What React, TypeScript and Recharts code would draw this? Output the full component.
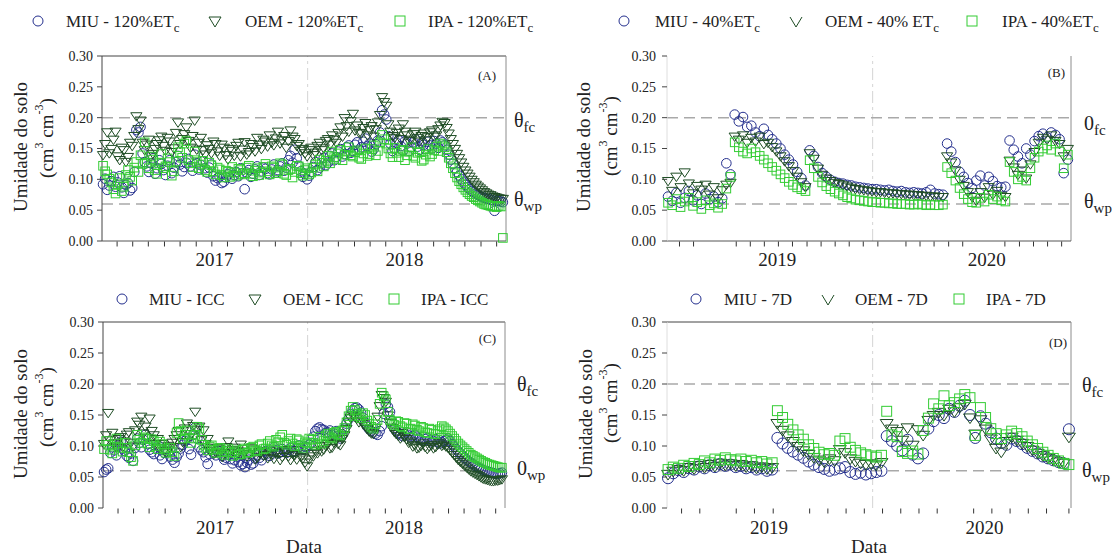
import React from 'react';
import { ScatterChart, Scatter, XAxis, YAxis, ReferenceLine } from 'recharts';

const SERIF = "'Liberation Serif', 'Times New Roman', serif";
const INK = '#222';
const MIU_COLOR = '#25308e';
const OEM_COLOR = '#1f4d25';
const IPA_COLOR = '#33cc33';

const X_MAX = 776;
const SEASON_BREAK = 395;
const FIELD_CAPACITY = 0.2;
const WILTING_POINT = 0.06;
const Y_TICKS = [0, 0.05, 0.1, 0.15, 0.2, 0.25, 0.3];

// Days since start of the 2016-2018 season (readings every 4 days)
const days2017 = [
  2, 6, 10, 14, 18, 22, 26, 30, 34, 38, 42, 46, 50, 54, 58, 62, 66, 70, 74, 78,
  82, 86, 90, 94, 98, 102, 106, 110, 114, 118, 122, 126, 130, 134, 138, 142, 146, 150, 154, 158,
  162, 166, 170, 174, 178, 182, 186, 190, 194, 198, 202, 206, 210, 214, 218, 222, 226, 230, 234, 238,
  242, 246, 250, 254, 258, 262, 266, 270, 274, 278, 282, 286, 290, 294, 298, 302, 306, 310, 314, 318,
  322, 326, 330, 334, 338, 342, 346, 350, 354, 358, 362, 366, 370, 374, 378, 382, 386, 390, 394, 398,
  402, 406, 410, 414, 418, 422, 426, 430, 434, 438, 442, 446, 450, 454, 458, 462, 466, 470, 474, 478,
  482, 486, 490, 494, 498, 502, 506, 510, 514, 518, 522, 526, 530, 534, 538, 542, 546, 550, 554, 558,
  562, 566, 570, 574, 578, 582, 586, 590, 594, 598, 602, 606, 610, 614, 618, 622, 626, 630, 634, 638,
  642, 646, 650, 654, 658, 662, 666, 670, 674, 678, 682, 686, 690, 694, 698, 702, 706, 710, 714, 718,
  722, 726, 730, 734, 738, 742, 746, 750, 754, 758, 762, 766, 770,
];
// Days since start of the 2018-2020 season
const days2019 = [
  2, 10, 18, 26, 34, 42, 50, 58, 66, 74, 82, 90, 98, 106, 114, 122, 130, 138, 146, 154,
  162, 170, 178, 186, 194, 202, 210, 218, 226, 234, 242, 250, 258, 266, 274, 282, 290, 298, 306, 314,
  322, 330, 338, 346, 354, 362, 370, 378, 386, 394, 402, 410, 418, 426, 434, 442, 450, 458, 466, 474,
  482, 490, 498, 506, 514, 522, 530, 538, 546, 554, 562, 570, 578, 586, 594, 602, 610, 618, 626, 634,
  642, 650, 658, 666, 674, 682, 690, 698, 706, 714, 722, 730, 738, 746, 754, 762, 770,
];
const days7D = [
  2, 12, 22, 32, 42, 52, 62, 72, 82, 92, 102, 112, 122, 132, 142, 152, 162, 172, 182, 192,
  202, 212, 222, 232, 242, 252, 262, 272, 282, 292, 302, 312, 322, 332, 342, 352, 362, 372, 382, 392,
  402, 412, 422, 432, 442, 452, 462, 472, 482, 492, 502, 512, 522, 532, 542, 552, 562, 572, 582, 592,
  602, 612, 622, 632, 642, 652, 662, 672, 682, 692, 702, 712, 722, 732, 742, 752, 762, 772,
];

// (A) 120% ETc
const miu120 = [
  0.092, 0.101, 0.083, 0.090, 0.097, 0.104, 0.088, 0.095, 0.105, 0.087, 0.078, 0.091, 0.094, 0.082, 0.086, 0.112, 0.180, 0.176, 0.185, 0.142,
  0.128, 0.121, 0.112, 0.126, 0.134, 0.109, 0.118, 0.131, 0.125, 0.115, 0.107, 0.122, 0.131, 0.110, 0.119, 0.128, 0.138, 0.124, 0.113, 0.120,
  0.127, 0.133, 0.121, 0.114, 0.140, 0.126, 0.116, 0.123, 0.129, 0.118, 0.111, 0.119, 0.124, 0.105, 0.098, 0.102, 0.104, 0.094, 0.096, 0.103,
  0.108, 0.112, 0.101, 0.107, 0.112, 0.105, 0.118, 0.110, 0.084, 0.111, 0.115, 0.104, 0.109, 0.116, 0.121, 0.107, 0.113, 0.119, 0.117, 0.110,
  0.108, 0.116, 0.124, 0.111, 0.115, 0.121, 0.126, 0.114, 0.119, 0.131, 0.138, 0.127, 0.148, 0.134, 0.122, 0.113, 0.104, 0.109, 0.100, 0.106,
  0.112, 0.120, 0.128, 0.115, 0.119, 0.126, 0.135, 0.123, 0.127, 0.138, 0.142, 0.131, 0.136, 0.145, 0.149, 0.137, 0.141, 0.152, 0.155, 0.143,
  0.146, 0.156, 0.160, 0.148, 0.152, 0.161, 0.166, 0.154, 0.158, 0.145, 0.149, 0.157, 0.163, 0.176, 0.212, 0.205, 0.197, 0.170, 0.158, 0.146,
  0.150, 0.159, 0.163, 0.154, 0.147, 0.162, 0.158, 0.146, 0.152, 0.160, 0.165, 0.153, 0.148, 0.159, 0.156, 0.149, 0.161, 0.155, 0.150, 0.162,
  0.158, 0.151, 0.163, 0.160, 0.155, 0.148, 0.140, 0.132, 0.125, 0.118, 0.112, 0.106, 0.100, 0.095, 0.091, 0.087, 0.084, 0.081, 0.079, 0.077,
  0.075, 0.073, 0.071, 0.070, 0.069, 0.068, 0.067, 0.066, 0.049, 0.065, 0.065, 0.064, 0.063,
];
const oem120 = [
  0.140, 0.158, 0.177, 0.143, 0.150, 0.165, 0.178, 0.138, 0.132, 0.152, 0.148, 0.129, 0.137, 0.160, 0.155, 0.171, 0.203, 0.182, 0.196, 0.160,
  0.148, 0.157, 0.165, 0.138, 0.142, 0.150, 0.158, 0.164, 0.170, 0.155, 0.147, 0.168, 0.162, 0.145, 0.151, 0.176, 0.193, 0.158, 0.166, 0.174,
  0.185, 0.163, 0.152, 0.171, 0.196, 0.149, 0.160, 0.168, 0.148, 0.141, 0.156, 0.150, 0.143, 0.162, 0.158, 0.146, 0.139, 0.157, 0.152, 0.140,
  0.133, 0.150, 0.147, 0.139, 0.155, 0.160, 0.138, 0.149, 0.161, 0.141, 0.145, 0.158, 0.153, 0.146, 0.168, 0.157, 0.150, 0.165, 0.162, 0.154,
  0.172, 0.160, 0.156, 0.167, 0.178, 0.159, 0.164, 0.171, 0.152, 0.163, 0.180, 0.170, 0.166, 0.155, 0.158, 0.147, 0.150, 0.143, 0.138, 0.148,
  0.152, 0.140, 0.144, 0.155, 0.160, 0.148, 0.151, 0.163, 0.166, 0.157, 0.172, 0.165, 0.160, 0.176, 0.185, 0.170, 0.200, 0.187, 0.178, 0.195,
  0.207, 0.180, 0.188, 0.176, 0.175, 0.184, 0.192, 0.172, 0.181, 0.187, 0.170, 0.182, 0.193, 0.205, 0.234, 0.226, 0.220, 0.190, 0.178, 0.171,
  0.168, 0.176, 0.183, 0.166, 0.190, 0.178, 0.172, 0.163, 0.165, 0.174, 0.178, 0.168, 0.162, 0.171, 0.175, 0.164, 0.169, 0.177, 0.180, 0.170,
  0.172, 0.182, 0.188, 0.194, 0.192, 0.184, 0.175, 0.166, 0.158, 0.150, 0.142, 0.135, 0.128, 0.121, 0.115, 0.110, 0.105, 0.100, 0.096, 0.092,
  0.089, 0.086, 0.083, 0.080, 0.078, 0.076, 0.075, 0.073, 0.072, 0.071, 0.070, 0.069, 0.069,
];
const ipa120 = [
  0.122, 0.113, 0.108, 0.101, 0.095, 0.084, 0.077, 0.092, 0.102, 0.081, 0.088, 0.107, 0.115, 0.104, 0.098, 0.119, 0.128, 0.112, 0.139, 0.125,
  0.160, 0.127, 0.118, 0.137, 0.132, 0.115, 0.109, 0.126, 0.141, 0.118, 0.121, 0.134, 0.128, 0.106, 0.113, 0.129, 0.152, 0.144, 0.135, 0.158,
  0.162, 0.131, 0.126, 0.120, 0.145, 0.128, 0.118, 0.124, 0.130, 0.115, 0.112, 0.127, 0.123, 0.113, 0.108, 0.119, 0.116, 0.107, 0.103, 0.114,
  0.112, 0.104, 0.120, 0.111, 0.106, 0.117, 0.115, 0.108, 0.110, 0.119, 0.122, 0.109, 0.105, 0.114, 0.118, 0.107, 0.111, 0.120, 0.125, 0.113,
  0.108, 0.121, 0.119, 0.110, 0.113, 0.126, 0.124, 0.109, 0.107, 0.115, 0.117, 0.103, 0.112, 0.122, 0.121, 0.110, 0.106, 0.115, 0.118, 0.108,
  0.111, 0.119, 0.124, 0.113, 0.132, 0.127, 0.121, 0.130, 0.138, 0.126, 0.145, 0.136, 0.133, 0.142, 0.148, 0.131, 0.140, 0.146, 0.152, 0.139,
  0.137, 0.144, 0.147, 0.135, 0.133, 0.142, 0.150, 0.138, 0.141, 0.149, 0.155, 0.139, 0.146, 0.160, 0.172, 0.165, 0.158, 0.150, 0.142, 0.136,
  0.151, 0.143, 0.136, 0.146, 0.148, 0.131, 0.139, 0.145, 0.152, 0.138, 0.135, 0.143, 0.145, 0.130, 0.132, 0.140, 0.149, 0.137, 0.141, 0.147,
  0.153, 0.146, 0.158, 0.155, 0.152, 0.144, 0.135, 0.126, 0.118, 0.110, 0.103, 0.097, 0.092, 0.087, 0.083, 0.079, 0.076, 0.073, 0.071, 0.068,
  0.066, 0.064, 0.062, 0.060, 0.059, 0.058, 0.057, 0.056, 0.056, 0.055, 0.057, 0.056, 0.005,
];

// (B) 40% ETc
const miu40 = [
  0.072, 0.065, 0.078, 0.062, 0.070, 0.081, 0.066, 0.074, 0.060, 0.077,
  0.068, 0.072, 0.063, 0.069, 0.126, 0.108, 0.205, 0.194, 0.201, 0.185,
  0.187, 0.176, 0.170, 0.182, 0.172, 0.165, 0.158, 0.150, 0.140, 0.132,
  0.124, 0.112, 0.102, 0.090, 0.147, 0.138, 0.120, 0.110, 0.104, 0.099,
  0.096, 0.094, 0.093, 0.091, 0.090, 0.088, 0.087, 0.086, 0.085, 0.084,
  0.084, 0.083, 0.082, 0.083, 0.081, 0.080, 0.081, 0.079, 0.078, 0.079,
  0.078, 0.077, 0.079, 0.083, 0.077, 0.076, 0.075, 0.158, 0.145, 0.128,
  0.112, 0.104, 0.094, 0.086, 0.098, 0.106, 0.090, 0.104, 0.097, 0.089,
  0.087, 0.088, 0.163, 0.148, 0.137, 0.126, 0.150, 0.140, 0.162, 0.170,
  0.174, 0.168, 0.176, 0.172, 0.165, 0.110, 0.132,
];
const oem40 = [
  0.098, 0.082, 0.105, 0.088, 0.112, 0.094, 0.078, 0.090, 0.084, 0.092,
  0.076, 0.088, 0.070, 0.083, 0.092, 0.095, 0.170, 0.165, 0.172, 0.160,
  0.168, 0.162, 0.170, 0.158, 0.160, 0.153, 0.146, 0.138, 0.130, 0.122,
  0.114, 0.105, 0.096, 0.088, 0.143, 0.134, 0.118, 0.108, 0.102, 0.098,
  0.095, 0.093, 0.091, 0.089, 0.087, 0.085, 0.084, 0.083, 0.082, 0.081,
  0.080, 0.080, 0.079, 0.078, 0.078, 0.077, 0.077, 0.076, 0.076, 0.075,
  0.075, 0.074, 0.074, 0.073, 0.073, 0.072, 0.072, 0.138, 0.128, 0.115,
  0.100, 0.090, 0.080, 0.072, 0.066, 0.080, 0.071, 0.088, 0.076, 0.082,
  0.074, 0.072, 0.131, 0.120, 0.108, 0.115, 0.102, 0.125, 0.145, 0.160,
  0.168, 0.165, 0.172, 0.163, 0.158, 0.138, 0.150,
];
const ipa40 = [
  0.062, 0.058, 0.068, 0.055, 0.064, 0.070, 0.057, 0.063, 0.052, 0.066,
  0.058, 0.061, 0.054, 0.060, 0.085, 0.104, 0.160, 0.152, 0.145, 0.142,
  0.150, 0.144, 0.138, 0.132, 0.126, 0.120, 0.114, 0.108, 0.102, 0.096,
  0.091, 0.087, 0.084, 0.081, 0.131, 0.118, 0.104, 0.095, 0.089, 0.084,
  0.080, 0.077, 0.074, 0.071, 0.069, 0.067, 0.066, 0.065, 0.064, 0.063,
  0.063, 0.062, 0.062, 0.061, 0.061, 0.060, 0.060, 0.060, 0.059, 0.059,
  0.060, 0.059, 0.058, 0.059, 0.058, 0.058, 0.059, 0.120, 0.110, 0.098,
  0.086, 0.076, 0.068, 0.063, 0.062, 0.070, 0.064, 0.075, 0.068, 0.072,
  0.066, 0.064, 0.128, 0.112, 0.100, 0.104, 0.098, 0.118, 0.135, 0.145,
  0.150, 0.155, 0.148, 0.158, 0.145, 0.118, 0.140,
];

// (C) ICC
const miuICC = [
  0.058, 0.062, 0.064, 0.089, 0.098, 0.093, 0.085, 0.101, 0.107, 0.096, 0.092, 0.084, 0.081, 0.088, 0.076, 0.097, 0.112, 0.105, 0.098, 0.110,
  0.118, 0.103, 0.094, 0.090, 0.087, 0.096, 0.101, 0.085, 0.079, 0.089, 0.095, 0.091, 0.083, 0.078, 0.073, 0.082, 0.088, 0.096, 0.102, 0.108,
  0.111, 0.095, 0.086, 0.118, 0.130, 0.112, 0.098, 0.093, 0.090, 0.082, 0.071, 0.087, 0.094, 0.089, 0.085, 0.092, 0.091, 0.084, 0.078, 0.081,
  0.086, 0.079, 0.072, 0.077, 0.083, 0.074, 0.069, 0.071, 0.066, 0.073, 0.078, 0.070, 0.072, 0.080, 0.085, 0.081, 0.077, 0.086, 0.092, 0.088,
  0.084, 0.091, 0.098, 0.093, 0.088, 0.090, 0.095, 0.092, 0.089, 0.094, 0.097, 0.090, 0.092, 0.096, 0.101, 0.097, 0.094, 0.099, 0.098, 0.102,
  0.105, 0.115, 0.124, 0.128, 0.130, 0.127, 0.126, 0.121, 0.122, 0.125, 0.118, 0.120, 0.124, 0.116, 0.112, 0.119, 0.128, 0.136, 0.143, 0.151,
  0.158, 0.161, 0.162, 0.159, 0.154, 0.146, 0.138, 0.131, 0.127, 0.124, 0.122, 0.120, 0.118, 0.124, 0.132, 0.152, 0.168, 0.163, 0.155, 0.140,
  0.128, 0.124, 0.121, 0.119, 0.116, 0.119, 0.122, 0.117, 0.114, 0.116, 0.118, 0.115, 0.112, 0.110, 0.108, 0.111, 0.113, 0.109, 0.106, 0.108,
  0.111, 0.107, 0.104, 0.106, 0.108, 0.110, 0.112, 0.108, 0.103, 0.099, 0.095, 0.091, 0.088, 0.084, 0.081, 0.078, 0.075, 0.073, 0.071, 0.068,
  0.066, 0.064, 0.063, 0.061, 0.060, 0.059, 0.058, 0.057, 0.056, 0.055, 0.055, 0.056, 0.057,
];
const oemICC = [
  0.104, 0.118, 0.154, 0.110, 0.122, 0.105, 0.098, 0.112, 0.115, 0.099, 0.108, 0.119, 0.123, 0.106, 0.100, 0.126, 0.140, 0.135, 0.148, 0.121,
  0.132, 0.114, 0.145, 0.125, 0.118, 0.104, 0.112, 0.097, 0.104, 0.093, 0.090, 0.101, 0.098, 0.106, 0.112, 0.118, 0.125, 0.099, 0.107, 0.129,
  0.137, 0.114, 0.120, 0.133, 0.156, 0.127, 0.132, 0.110, 0.126, 0.104, 0.112, 0.093, 0.098, 0.088, 0.090, 0.097, 0.095, 0.083, 0.087, 0.099,
  0.108, 0.089, 0.094, 0.098, 0.085, 0.092, 0.103, 0.087, 0.091, 0.084, 0.088, 0.097, 0.095, 0.079, 0.082, 0.090, 0.092, 0.085, 0.086, 0.081,
  0.093, 0.087, 0.080, 0.090, 0.089, 0.078, 0.083, 0.094, 0.092, 0.084, 0.078, 0.088, 0.086, 0.079, 0.094, 0.083, 0.081, 0.074, 0.068, 0.079,
  0.088, 0.084, 0.093, 0.089, 0.100, 0.092, 0.095, 0.101, 0.104, 0.097, 0.098, 0.106, 0.110, 0.104, 0.102, 0.112, 0.118, 0.128, 0.140, 0.146,
  0.150, 0.148, 0.145, 0.139, 0.141, 0.136, 0.133, 0.128, 0.124, 0.121, 0.120, 0.130, 0.148, 0.165, 0.183, 0.178, 0.172, 0.150, 0.138, 0.130,
  0.124, 0.120, 0.117, 0.113, 0.122, 0.115, 0.112, 0.106, 0.108, 0.100, 0.102, 0.097, 0.098, 0.101, 0.105, 0.099, 0.096, 0.100, 0.102, 0.097,
  0.099, 0.103, 0.106, 0.101, 0.103, 0.100, 0.098, 0.094, 0.090, 0.086, 0.082, 0.078, 0.075, 0.072, 0.069, 0.066, 0.063, 0.060, 0.058, 0.056,
  0.054, 0.052, 0.050, 0.048, 0.047, 0.046, 0.045, 0.044, 0.044, 0.045, 0.045, 0.046, 0.047,
];
const ipaICC = [
  0.095, 0.108, 0.102, 0.094, 0.088, 0.099, 0.112, 0.104, 0.097, 0.091, 0.105, 0.097, 0.090, 0.082, 0.076, 0.101, 0.118, 0.110, 0.105, 0.114,
  0.112, 0.104, 0.098, 0.111, 0.108, 0.100, 0.095, 0.107, 0.103, 0.096, 0.089, 0.093, 0.097, 0.090, 0.084, 0.121, 0.137, 0.124, 0.112, 0.118,
  0.125, 0.113, 0.105, 0.112, 0.118, 0.131, 0.128, 0.110, 0.102, 0.097, 0.093, 0.099, 0.101, 0.094, 0.089, 0.095, 0.097, 0.090, 0.086, 0.092,
  0.095, 0.089, 0.084, 0.090, 0.093, 0.086, 0.087, 0.094, 0.096, 0.089, 0.090, 0.097, 0.099, 0.093, 0.092, 0.101, 0.103, 0.095, 0.096, 0.104,
  0.108, 0.101, 0.099, 0.110, 0.106, 0.114, 0.118, 0.105, 0.102, 0.108, 0.112, 0.104, 0.100, 0.111, 0.109, 0.101, 0.097, 0.106, 0.104, 0.112,
  0.110, 0.105, 0.102, 0.111, 0.115, 0.104, 0.108, 0.117, 0.120, 0.114, 0.112, 0.121, 0.123, 0.119, 0.117, 0.125, 0.129, 0.138, 0.148, 0.157,
  0.163, 0.158, 0.152, 0.148, 0.145, 0.153, 0.150, 0.141, 0.136, 0.131, 0.128, 0.135, 0.142, 0.168, 0.186, 0.180, 0.175, 0.155, 0.142, 0.137,
  0.134, 0.140, 0.139, 0.132, 0.130, 0.137, 0.136, 0.127, 0.128, 0.135, 0.133, 0.126, 0.124, 0.131, 0.129, 0.122, 0.121, 0.128, 0.126, 0.120,
  0.119, 0.124, 0.127, 0.132, 0.130, 0.127, 0.124, 0.120, 0.116, 0.112, 0.108, 0.104, 0.101, 0.098, 0.095, 0.092, 0.089, 0.086, 0.084, 0.082,
  0.080, 0.078, 0.076, 0.074, 0.073, 0.071, 0.070, 0.069, 0.068, 0.067, 0.066, 0.065, 0.065,
];

// (D) 7-day interval
const miu7D = [
  0.048, 0.056, 0.061, 0.058, 0.064, 0.062, 0.067, 0.064, 0.069, 0.066,
  0.071, 0.068, 0.070, 0.066, 0.068, 0.064, 0.066, 0.062, 0.064, 0.060,
  0.062, 0.113, 0.104, 0.097, 0.091, 0.086, 0.081, 0.075, 0.070, 0.066,
  0.063, 0.060, 0.062, 0.064, 0.066, 0.058, 0.055, 0.057, 0.054, 0.056,
  0.058, 0.060, 0.116, 0.108, 0.100, 0.093, 0.110, 0.086, 0.080, 0.088,
  0.128, 0.140, 0.150, 0.145, 0.160, 0.155, 0.165, 0.173, 0.150, 0.113,
  0.148, 0.136, 0.122, 0.112, 0.105, 0.102, 0.112, 0.108, 0.103, 0.097,
  0.092, 0.088, 0.083, 0.080, 0.077, 0.074, 0.072, 0.127,
];
const oem7D = [
  0.055, 0.060, 0.063, 0.061, 0.066, 0.064, 0.069, 0.066, 0.071, 0.068,
  0.073, 0.070, 0.072, 0.069, 0.071, 0.067, 0.069, 0.065, 0.067, 0.064,
  0.066, 0.137, 0.126, 0.117, 0.108, 0.100, 0.093, 0.087, 0.082, 0.078,
  0.075, 0.080, 0.077, 0.095, 0.090, 0.080, 0.076, 0.073, 0.071, 0.072,
  0.070, 0.074, 0.137, 0.128, 0.124, 0.110, 0.130, 0.102, 0.127, 0.118,
  0.142, 0.150, 0.155, 0.150, 0.160, 0.156, 0.163, 0.168, 0.146, 0.120,
  0.143, 0.128, 0.112, 0.097, 0.091, 0.108, 0.115, 0.110, 0.105, 0.100,
  0.094, 0.089, 0.085, 0.081, 0.078, 0.075, 0.073, 0.115,
];
const ipa7D = [
  0.062, 0.066, 0.064, 0.069, 0.067, 0.072, 0.070, 0.076, 0.073, 0.079,
  0.077, 0.081, 0.078, 0.076, 0.079, 0.075, 0.077, 0.073, 0.075, 0.071,
  0.073, 0.157, 0.146, 0.135, 0.126, 0.118, 0.111, 0.102, 0.096, 0.090,
  0.086, 0.088, 0.085, 0.108, 0.112, 0.098, 0.093, 0.089, 0.086, 0.084,
  0.082, 0.085, 0.156, 0.118, 0.115, 0.091, 0.088, 0.092, 0.087, 0.125,
  0.145, 0.168, 0.160, 0.181, 0.165, 0.170, 0.176, 0.183, 0.178, 0.117,
  0.162, 0.146, 0.128, 0.120, 0.112, 0.118, 0.124, 0.120, 0.115, 0.108,
  0.102, 0.096, 0.090, 0.085, 0.080, 0.076, 0.072, 0.070,
];

// Axis tick days (month marks) and year labels
const ticksA = [29, 59, 89, 120, 150, 181, 211, 241, 272, 302, 333, 363, 393, 424, 454, 485, 515, 545, 576, 606, 637, 667, 697, 728, 758];
const ticksC = [29, 59, 89, 120, 150, 241, 272, 302, 333, 363, 393, 424, 454, 485, 515, 545, 576, 637, 667, 697, 728, 758];
const ticksB = [24, 51, 133, 160, 187, 214, 241, 269, 296, 323, 350, 377, 405, 459, 486, 513, 541, 568, 649, 677, 704, 731, 758];
const ticksD = [28, 63, 133, 168, 204, 274, 309, 344, 379, 414, 449, 484, 519, 589, 624, 659, 694, 729, 772];
const yearsAC = [{ day: 216, label: '2017' }, { day: 581, label: '2018' }];
const yearsB = [{ day: 212, label: '2019' }, { day: 614, label: '2020' }];
const yearsD = [{ day: 196, label: '2019' }, { day: 610, label: '2020' }];

type Pt = { day: number; v: number };
function toPoints(days: number[], vals: number[]): Pt[] {
  const out: Pt[] = [];
  days.forEach((d, i) => {
    if (vals[i] != null) out.push({ day: d, v: vals[i] });
  });
  return out;
}

const circleShape = (r: number) => (p: any) => (
  <circle cx={p.cx} cy={p.cy} r={r} fill="none" stroke={MIU_COLOR} strokeWidth={1} />
);
const triShape = (s: number) => (p: any) => (
  <path
    d={`M${p.cx - s},${p.cy - s * 0.55}L${p.cx + s},${p.cy - s * 0.55}L${p.cx},${p.cy + s * 0.95}Z`}
    fill="none"
    stroke={OEM_COLOR}
    strokeWidth={1}
  />
);
const squareShape = (h: number) => (p: any) => (
  <rect x={p.cx - h} y={p.cy - h} width={2 * h} height={2 * h} fill="none" stroke={IPA_COLOR} strokeWidth={1} />
);

function ThetaLabel(props: any) {
  const { viewBox, sym, sub, dx, dy } = props;
  if (!viewBox) return null;
  return (
    <text x={viewBox.x + viewBox.width + dx} y={viewBox.y + dy} fontFamily={SERIF} fontSize={20} fill={INK}>
      {sym}
      <tspan fontSize={15} dy={5}>{sub}</tspan>
    </text>
  );
}

type LegendItem = { kind: 'circle' | 'tri' | 'vee' | 'square'; mx: number; tx: number; text: string; sub?: string };

function LegendMark({ kind, x, y }: { kind: string; x: number; y: number }) {
  if (kind === 'circle') return <circle cx={x} cy={y} r={5} fill="none" stroke={MIU_COLOR} strokeWidth={1} />;
  if (kind === 'tri')
    return <path d={`M${x - 6},${y - 4}L${x + 6},${y - 4}L${x},${y + 6}Z`} fill="none" stroke={OEM_COLOR} strokeWidth={1} />;
  if (kind === 'vee') return <path d={`M${x - 6},${y - 4}L${x},${y + 6}L${x + 6},${y - 4}`} fill="none" stroke={OEM_COLOR} strokeWidth={1} />;
  return <rect x={x - 5} y={y - 5} width={10} height={10} fill="none" stroke={IPA_COLOR} strokeWidth={1} />;
}

interface PanelProps {
  left: number;
  top: number;
  plot: { l: number; t: number; r: number; b: number };
  days: number[];
  miu: number[];
  oem: number[];
  ipa: number[];
  ticks: number[];
  years: { day: number; label: string }[];
  yearDy: number;
  legend: LegendItem[];
  legendY: number;
  letter: string;
  letterX: number;
  letterY: number;
  title: { x1: number; y1: number; x2: number; y2: number };
  fcSym: string;
  wpSym: string;
  thetaDx: number;
  fcDy: number;
  wpDy: number;
  leftColor: string;
  topLine: boolean;
  bottomLine: boolean;
  yTickGap: number;
  markScale: number;
  showXTitle: boolean;
}

function Panel(p: PanelProps) {
  const yearAt = new Map(p.years.map((y) => [y.day, y.label]));
  const allTicks = [...p.ticks, ...p.years.map((y) => y.day)];
  const renderTick = (props: any) => {
    const { x, y, payload } = props;
    const label = yearAt.get(payload.value);
    if (label)
      return (
        <text x={x} y={y + p.yearDy} textAnchor="middle" fontFamily={SERIF} fontSize={19} fill={INK}>
          {label}
        </text>
      );
    return <line x1={x} x2={x} y1={y + 0.5} y2={y + 5.5} stroke="#333" strokeWidth={1} />;
  };
  const k = p.markScale;
  return (
    <div style={{ position: 'absolute', left: p.left, top: p.top, width: 556, height: 278 }}>
      <ScatterChart
        width={556}
        height={278}
        margin={{ top: p.plot.t, right: 556 - p.plot.r, bottom: 278 - p.plot.b - 30, left: p.plot.l - 40 }}
      >
        <XAxis
          type="number"
          dataKey="day"
          domain={[0, X_MAX]}
          ticks={allTicks}
          interval={0}
          tick={renderTick}
          tickLine={false}
          tickSize={0}
          tickMargin={0}
          height={30}
          axisLine={p.bottomLine ? { stroke: '#555' } : false}
        />
        <YAxis
          type="number"
          dataKey="v"
          domain={[0, 0.3]}
          ticks={Y_TICKS}
          interval={0}
          width={40}
          tickFormatter={(v: number) => v.toFixed(2)}
          tick={{ fontSize: 14, fontFamily: SERIF, fill: INK }}
          tickSize={5}
          tickMargin={p.yTickGap}
          tickLine={{ stroke: '#444' }}
          axisLine={{ stroke: p.leftColor }}
        />
        <ReferenceLine x={SEASON_BREAK} stroke="#d4d4d4" strokeDasharray="12 4 3 4" />
        <ReferenceLine
          y={FIELD_CAPACITY}
          stroke="#a9a9a9"
          strokeWidth={1.5}
          strokeDasharray="11 6"
          label={<ThetaLabel sym={p.fcSym} sub="fc" dx={p.thetaDx} dy={p.fcDy} />}
        />
        <ReferenceLine
          y={WILTING_POINT}
          stroke="#a9a9a9"
          strokeWidth={1.5}
          strokeDasharray="11 6"
          label={<ThetaLabel sym={p.wpSym} sub="wp" dx={p.thetaDx} dy={p.wpDy} />}
        />
        {p.topLine && <ReferenceLine y={0.3} stroke="#444" />}
        <ReferenceLine x={X_MAX} stroke="#8c8c8c" />
        <Scatter data={toPoints(p.days, p.miu)} shape={circleShape(4.8 * k)} isAnimationActive={false} />
        <Scatter data={toPoints(p.days, p.oem)} shape={triShape(5.6 * k)} isAnimationActive={false} />
        <Scatter data={toPoints(p.days, p.ipa)} shape={squareShape(4.3 * k)} isAnimationActive={false} />
      </ScatterChart>
      <svg
        width={556}
        height={278}
        style={{ position: 'absolute', left: 0, top: 0, pointerEvents: 'none', overflow: 'visible' }}
      >
        {p.legend.map((it, i) => (
          <g key={i}>
            <LegendMark kind={it.kind} x={it.mx} y={p.legendY} />
            <text x={it.tx} y={p.legendY + 6} fontFamily={SERIF} fontSize={17} fill={INK}>
              {it.text}
              {it.sub && (
                <tspan fontSize={13} dy={5}>
                  {it.sub}
                </tspan>
              )}
            </text>
          </g>
        ))}
        <text
          transform={`translate(${p.title.x1},${p.title.y1}) rotate(-90)`}
          textAnchor="middle"
          dominantBaseline="central"
          fontFamily={SERIF}
          fontSize={19}
          fill={INK}
        >
          Umidade do solo
        </text>
        <text
          transform={`translate(${p.title.x2},${p.title.y2}) rotate(-90)`}
          textAnchor="middle"
          dominantBaseline="central"
          fontFamily={SERIF}
          fontSize={19}
          fill={INK}
        >
          (cm
          <tspan fontSize={12} dy={-7}>3</tspan>
          <tspan dy={7}> cm</tspan>
          <tspan fontSize={12} dy={-7}>-3</tspan>
          <tspan dy={7}>)</tspan>
        </text>
        <text x={p.letterX} y={p.letterY} textAnchor="end" fontFamily={SERIF} fontSize={13} fill={INK}>
          {p.letter}
        </text>
        {p.showXTitle && (
          <text
            x={(p.plot.l + p.plot.r) / 2}
            y={275}
            textAnchor="middle"
            fontFamily={SERIF}
            fontSize={19}
            fill={INK}
          >
            Data
          </text>
        )}
      </svg>
    </div>
  );
}

export default function App() {
  return (
    <div
      style={{
        position: 'absolute',
        left: 0,
        top: 0,
        width: 1112,
        height: 556,
        background: '#fff',
        overflow: 'hidden',
      }}
    >
      <Panel
        left={0}
        top={0}
        plot={{ l: 102, t: 56, r: 506, b: 241 }}
        days={days2017}
        miu={miu120}
        oem={oem120}
        ipa={ipa120}
        ticks={ticksA}
        years={yearsAC}
        yearDy={25}
        legend={[
          { kind: 'circle', mx: 38, tx: 66, text: 'MIU - 120%ET', sub: 'c' },
          { kind: 'tri', mx: 215, tx: 245, text: 'OEM - 120%ET', sub: 'c' },
          { kind: 'square', mx: 400, tx: 428, text: 'IPA - 120%ET', sub: 'c' },
        ]}
        legendY={21}
        letter="(A)"
        letterX={496}
        letterY={80}
        title={{ x1: 20, y1: 147, x2: 46, y2: 138 }}
        fcSym="θ"
        wpSym="θ"
        thetaDx={8}
        fcDy={9}
        wpDy={2}
        leftColor="#444"
        topLine={true}
        bottomLine={true}
        yTickGap={4}
        markScale={1}
        showXTitle={false}
      />
      <Panel
        left={556}
        top={0}
        plot={{ l: 111, t: 56, r: 515, b: 241 }}
        days={days2019}
        miu={miu40}
        oem={oem40}
        ipa={ipa40}
        ticks={ticksB}
        years={yearsB}
        yearDy={25}
        legend={[
          { kind: 'circle', mx: 68, tx: 99, text: 'MIU - 40%ET', sub: 'c' },
          { kind: 'vee', mx: 240, tx: 269, text: 'OEM - 40% ET', sub: 'c' },
          { kind: 'square', mx: 416, tx: 446, text: 'IPA - 40%ET', sub: 'c' },
        ]}
        legendY={21}
        letter="(B)"
        letterX={509}
        letterY={77}
        title={{ x1: 27, y1: 147, x2: 54, y2: 136 }}
        fcSym="0"
        wpSym="θ"
        thetaDx={13}
        fcDy={12}
        wpDy={4}
        leftColor="#dedede"
        topLine={false}
        bottomLine={true}
        yTickGap={6}
        markScale={1}
        showXTitle={false}
      />
      <Panel
        left={0}
        top={278}
        plot={{ l: 103, t: 44, r: 505, b: 230 }}
        days={days2017}
        miu={miuICC}
        oem={oemICC}
        ipa={ipaICC}
        ticks={ticksC}
        years={yearsAC}
        yearDy={26}
        legend={[
          { kind: 'circle', mx: 122, tx: 149, text: 'MIU - ICC' },
          { kind: 'tri', mx: 255, tx: 283, text: 'OEM - ICC' },
          { kind: 'square', mx: 394, tx: 421, text: 'IPA - ICC' },
        ]}
        legendY={21}
        letter="(C)"
        letterX={496}
        letterY={65}
        title={{ x1: 20, y1: 136, x2: 46, y2: 129 }}
        fcSym="θ"
        wpSym="0"
        thetaDx={12}
        fcDy={7}
        wpDy={4}
        leftColor="#444"
        topLine={true}
        bottomLine={false}
        yTickGap={4}
        markScale={1}
        showXTitle={true}
      />
      <Panel
        left={556}
        top={278}
        plot={{ l: 111, t: 44, r: 515, b: 230 }}
        days={days7D}
        miu={miu7D}
        oem={oem7D}
        ipa={ipa7D}
        ticks={ticksD}
        years={yearsD}
        yearDy={26}
        legend={[
          { kind: 'circle', mx: 140, tx: 168, text: 'MIU - 7D' },
          { kind: 'vee', mx: 272, tx: 299, text: 'OEM - 7D' },
          { kind: 'square', mx: 403, tx: 430, text: 'IPA - 7D' },
        ]}
        legendY={21}
        letter="(D)"
        letterX={511}
        letterY={69}
        title={{ x1: 29, y1: 136, x2: 54, y2: 125 }}
        fcSym="θ"
        wpSym="θ"
        thetaDx={11}
        fcDy={8}
        wpDy={6}
        leftColor="#dedede"
        topLine={true}
        bottomLine={false}
        yTickGap={6}
        markScale={1.15}
        showXTitle={true}
      />
    </div>
  );
}
